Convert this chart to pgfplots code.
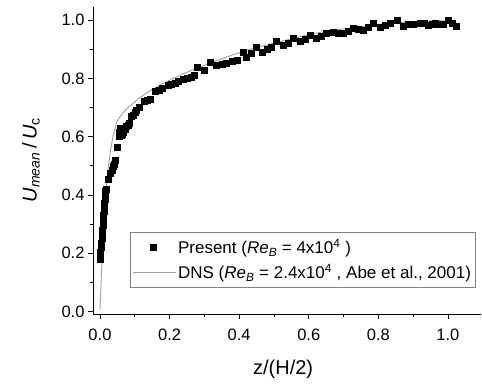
\documentclass[border=0pt]{standalone}
\usepackage{pgfplots}
\pgfplotsset{compat=1.18}
\usepackage{fontspec}
\setmainfont{Liberation Sans}
\pgfplotstableread{
x y
0.000 0.180
0.001 0.190
0.002 0.205
0.003 0.220
0.004 0.235
0.005 0.250
0.005 0.262
0.007 0.280
0.008 0.295
0.009 0.305
0.010 0.320
0.010 0.330
0.011 0.345
0.012 0.360
0.013 0.372
0.014 0.385
0.015 0.400
0.016 0.412
0.018 0.420
0.024 0.455
0.030 0.475
0.034 0.485
0.038 0.497
0.041 0.505
0.043 0.520
0.050 0.565
0.054 0.600
0.056 0.615
0.058 0.630
0.060 0.605
0.062 0.620
0.064 0.610
0.066 0.625
0.068 0.615
0.070 0.630
0.072 0.625
0.075 0.635
0.080 0.640
0.084 0.645
0.090 0.670
0.095 0.675
0.100 0.685
0.105 0.690
0.112 0.700
0.128 0.720
0.135 0.725
0.145 0.730
0.160 0.755
0.170 0.760
0.180 0.765
0.195 0.775
0.205 0.780
0.215 0.785
0.225 0.790
0.240 0.798
0.252 0.800
0.262 0.805
0.272 0.810
0.278 0.840
0.300 0.828
0.316 0.857
0.335 0.846
0.350 0.850
0.364 0.851
0.380 0.858
0.393 0.863
0.412 0.891
0.420 0.874
0.435 0.885
0.450 0.908
0.465 0.891
0.480 0.900
0.493 0.908
0.507 0.926
0.526 0.914
0.540 0.920
0.555 0.937
0.575 0.926
0.590 0.935
0.603 0.948
0.622 0.937
0.636 0.945
0.651 0.954
0.670 0.960
0.685 0.955
0.699 0.954
0.714 0.962
0.728 0.971
0.743 0.968
0.757 0.966
0.770 0.975
0.785 0.989
0.805 0.977
0.820 0.982
0.833 0.989
0.853 0.998
0.872 0.980
0.887 0.985
0.900 0.986
0.920 0.991
0.932 0.990
0.943 0.982
0.955 0.987
0.963 0.989
0.975 0.985
0.987 0.986
1.001 0.998
1.011 0.989
1.025 0.980
}\present
\pgfplotstableread{
x y
0.000 0.005
0.002 0.060
0.004 0.120
0.006 0.175
0.008 0.220
0.012 0.320
0.016 0.400
0.020 0.455
0.024 0.497
0.030 0.550
0.038 0.605
0.048 0.650
0.060 0.672
0.072 0.690
0.086 0.705
0.110 0.730
0.134 0.750
0.180 0.782
0.230 0.811
0.280 0.836
0.326 0.857
0.380 0.880
0.421 0.897
0.470 0.912
0.517 0.926
0.565 0.940
0.613 0.954
0.660 0.963
0.709 0.971
0.760 0.979
0.805 0.986
0.850 0.990
0.900 0.994
0.950 0.997
0.996 0.998
1.020 0.999
}\dns
\begin{document}
\begin{tikzpicture}
\useasboundingbox (0,0) rectangle (482bp,385bp);
\begin{axis}[
  at={(93bp,70.6bp)}, anchor=south west,
  scale only axis, width=388bp, height=307.4bp,
  xmin=-0.02, xmax=1.095, ymin=-0.01, ymax=1.045,
  axis x line*=bottom, axis y line*=left,
  axis line style={black, line width=0.8pt},
  xtick={0,0.2,...,1.0}, ytick={0,0.2,...,1.0},
  minor tick num=1,
  tick align=outside,
  major tick length=5bp, minor tick length=3bp,
  tick style={black, line width=0.8pt},
  xticklabel style={yshift=-6bp, /pgf/number format/.cd, fixed, fixed zerofill, precision=1},
  yticklabel style={/pgf/number format/.cd, fixed, fixed zerofill, precision=1},
  /pgf/number format/assume math mode=true,
  ticklabel style={font=\fontsize{16.5bp}{19bp}\selectfont},
  xlabel={z/(H/2)},
  xlabel style={font=\fontsize{20bp}{24bp}\selectfont, at={(axis description cs:0.49,-0.178)}, anchor=center},
  ylabel={\textit{U}\textsubscript{\textit{mean}}\,/\,\textit{U}\textsubscript{c}},
  ylabel style={font=\fontsize{20bp}{24bp}\selectfont, at={(axis description cs:-0.16,0.502)}, anchor=center},
  legend style={at={(axis description cs:0.095,0.268)}, anchor=north west,
    draw=gray, line width=0.6pt, inner xsep=2bp, inner ysep=5bp,
    font=\fontsize{17bp}{20bp}\selectfont, row sep=5bp},
  legend cell align=left,
]
\addplot[only marks, mark=square*, mark size=3bp, black, legend image code/.code={\draw[black, mark=square*, mark size=3bp] plot coordinates {(21bp,0bp)};\path (0bp,0bp) (43bp,0bp);}] table {\present};
\addlegendentry{Present (\textit{Re}\textsubscript{\textit{B}} = 4x10\textsuperscript{4} )}
\addplot[gray!75, line width=0.9pt, no marks, legend image code/.code={\draw[gray!75, line width=0.9pt] (0bp,0bp) -- (43bp,0bp);}] table {\dns};
\addlegendentry{DNS (\textit{Re}\textsubscript{\textit{B}} = 2.4x10\textsuperscript{4} , Abe et al., 2001)}
\end{axis}
\end{tikzpicture}
\end{document}
